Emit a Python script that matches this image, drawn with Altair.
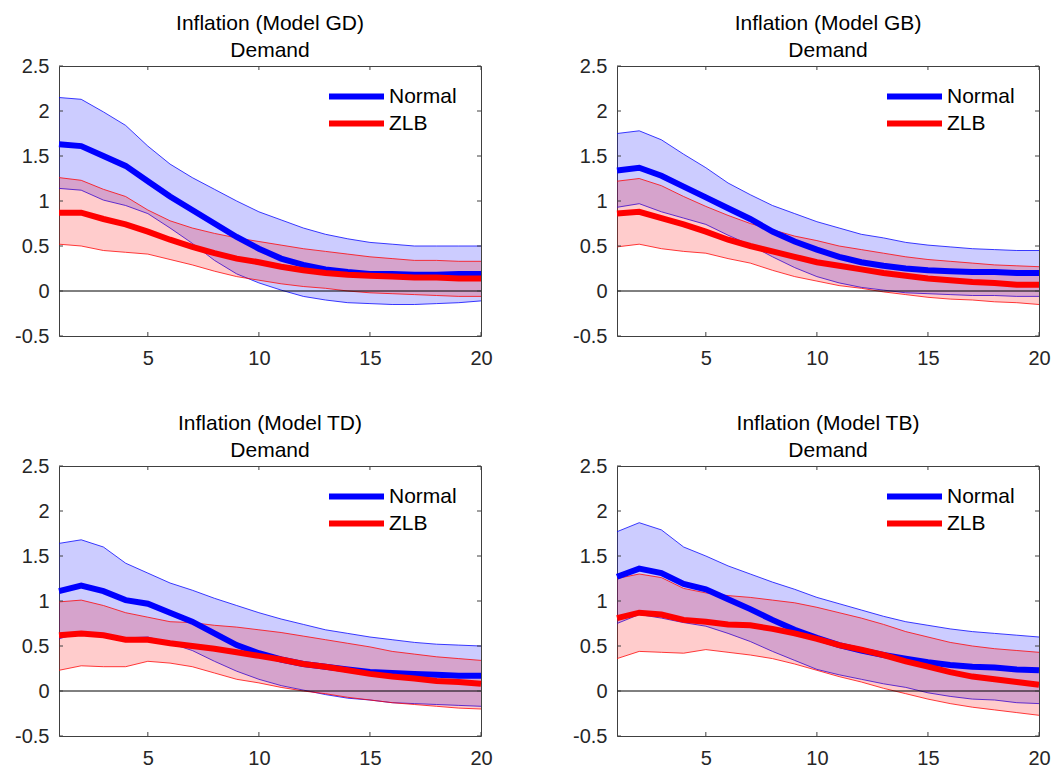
import altair as alt
import pandas as pd

t = list(range(1, 21))
panel_keys = ["GD", "GB", "TD", "TB"]
panel_titles = ["Inflation (Model GD)", "Inflation (Model GB)",
                "Inflation (Model TD)", "Inflation (Model TB)"]
subtitle = "Demand"
series_names = ["Normal", "ZLB"]
series_colors = ["#0000ff", "#ff0000"]
x_ticks = [5, 10, 15, 20]
y_ticks = [-0.5, 0, 0.5, 1, 1.5, 2, 2.5]

# ---- Model GD ----
gd_normal_med = [1.63, 1.61, 1.50, 1.39, 1.22, 1.05, 0.90, 0.75, 0.60, 0.47,
                 0.36, 0.29, 0.24, 0.21, 0.19, 0.19, 0.18, 0.18, 0.19, 0.19]
gd_normal_hi = [2.15, 2.13, 1.99, 1.84, 1.61, 1.41, 1.26, 1.13, 1.00, 0.88,
                0.79, 0.70, 0.63, 0.58, 0.54, 0.52, 0.50, 0.50, 0.50, 0.50]
gd_normal_lo = [1.14, 1.12, 1.01, 0.95, 0.86, 0.70, 0.53, 0.34, 0.19, 0.09,
                0.01, -0.06, -0.10, -0.13, -0.14, -0.15, -0.15, -0.14, -0.13, -0.11]
gd_zlb_med = [0.87, 0.87, 0.80, 0.74, 0.66, 0.57, 0.49, 0.42, 0.36, 0.32,
              0.27, 0.23, 0.20, 0.18, 0.17, 0.16, 0.15, 0.15, 0.14, 0.14]
gd_zlb_hi = [1.26, 1.23, 1.13, 1.05, 0.90, 0.78, 0.70, 0.64, 0.59, 0.55,
             0.51, 0.47, 0.44, 0.41, 0.38, 0.36, 0.34, 0.34, 0.33, 0.33]
gd_zlb_lo = [0.52, 0.50, 0.45, 0.43, 0.41, 0.35, 0.29, 0.22, 0.16, 0.12,
             0.08, 0.05, 0.03, 0.00, -0.02, -0.03, -0.04, -0.05, -0.06, -0.06]

# ---- Model GB ----
gb_normal_med = [1.34, 1.37, 1.28, 1.16, 1.04, 0.92, 0.80, 0.66, 0.55, 0.46,
                 0.38, 0.32, 0.28, 0.25, 0.23, 0.22, 0.21, 0.21, 0.20, 0.20]
gb_normal_hi = [1.75, 1.78, 1.68, 1.52, 1.37, 1.20, 1.07, 0.95, 0.86, 0.77,
                0.70, 0.63, 0.59, 0.54, 0.51, 0.49, 0.47, 0.46, 0.45, 0.45]
gb_normal_lo = [0.93, 0.97, 0.88, 0.81, 0.74, 0.62, 0.51, 0.38, 0.26, 0.16,
                0.09, 0.04, 0.01, -0.02, -0.03, -0.04, -0.05, -0.05, -0.06, -0.06]
gb_zlb_med = [0.86, 0.88, 0.81, 0.74, 0.66, 0.57, 0.50, 0.44, 0.38, 0.32,
              0.28, 0.24, 0.20, 0.17, 0.14, 0.12, 0.10, 0.09, 0.07, 0.07]
gb_zlb_hi = [1.22, 1.25, 1.17, 1.05, 0.94, 0.84, 0.75, 0.68, 0.61, 0.56,
             0.50, 0.46, 0.42, 0.38, 0.35, 0.33, 0.31, 0.29, 0.28, 0.27]
gb_zlb_lo = [0.49, 0.52, 0.47, 0.44, 0.42, 0.36, 0.31, 0.23, 0.16, 0.11,
             0.06, 0.03, -0.01, -0.04, -0.07, -0.09, -0.10, -0.12, -0.13, -0.15]

# ---- Model TD ----
td_normal_med = [1.11, 1.17, 1.11, 1.01, 0.97, 0.87, 0.77, 0.64, 0.51, 0.42,
                 0.35, 0.30, 0.27, 0.24, 0.21, 0.20, 0.19, 0.18, 0.17, 0.17]
td_normal_hi = [1.64, 1.68, 1.60, 1.42, 1.31, 1.20, 1.12, 1.03, 0.95, 0.87,
                0.80, 0.74, 0.68, 0.64, 0.60, 0.57, 0.54, 0.52, 0.51, 0.50]
td_normal_lo = [0.58, 0.65, 0.63, 0.59, 0.60, 0.53, 0.45, 0.33, 0.22, 0.13,
                0.06, 0.01, -0.04, -0.08, -0.10, -0.13, -0.14, -0.15, -0.16, -0.17]
td_zlb_med = [0.62, 0.64, 0.62, 0.57, 0.57, 0.53, 0.50, 0.47, 0.43, 0.39,
              0.35, 0.30, 0.27, 0.23, 0.19, 0.16, 0.14, 0.11, 0.10, 0.08]
td_zlb_hi = [0.99, 1.01, 0.95, 0.87, 0.82, 0.77, 0.76, 0.73, 0.71, 0.68,
             0.65, 0.61, 0.57, 0.53, 0.49, 0.44, 0.41, 0.38, 0.36, 0.34]
td_zlb_lo = [0.23, 0.28, 0.27, 0.27, 0.33, 0.31, 0.27, 0.20, 0.13, 0.09,
             0.04, 0.00, -0.03, -0.07, -0.10, -0.13, -0.15, -0.17, -0.19, -0.20]

# ---- Model TB ----
tb_normal_med = [1.27, 1.36, 1.31, 1.19, 1.13, 1.02, 0.91, 0.79, 0.68, 0.59,
                 0.51, 0.45, 0.40, 0.36, 0.32, 0.29, 0.27, 0.26, 0.24, 0.23]
tb_normal_hi = [1.77, 1.87, 1.79, 1.60, 1.50, 1.39, 1.30, 1.21, 1.13, 1.04,
                0.97, 0.90, 0.83, 0.77, 0.73, 0.69, 0.66, 0.64, 0.62, 0.60]
tb_normal_lo = [0.75, 0.85, 0.81, 0.76, 0.72, 0.64, 0.55, 0.44, 0.34, 0.24,
                0.18, 0.13, 0.08, 0.04, -0.02, -0.06, -0.09, -0.10, -0.13, -0.14]
tb_zlb_med = [0.81, 0.87, 0.85, 0.79, 0.77, 0.74, 0.73, 0.69, 0.64, 0.58,
              0.51, 0.46, 0.40, 0.33, 0.27, 0.21, 0.16, 0.13, 0.10, 0.07]
tb_zlb_hi = [1.25, 1.30, 1.26, 1.14, 1.09, 1.06, 1.04, 1.01, 0.98, 0.93,
             0.87, 0.81, 0.74, 0.66, 0.60, 0.54, 0.50, 0.47, 0.45, 0.43]
tb_zlb_lo = [0.36, 0.44, 0.43, 0.42, 0.46, 0.43, 0.40, 0.36, 0.30, 0.23,
             0.16, 0.10, 0.03, -0.03, -0.09, -0.14, -0.18, -0.21, -0.24, -0.27]

data = {
    "GD": {"Normal": (gd_normal_med, gd_normal_lo, gd_normal_hi),
           "ZLB": (gd_zlb_med, gd_zlb_lo, gd_zlb_hi)},
    "GB": {"Normal": (gb_normal_med, gb_normal_lo, gb_normal_hi),
           "ZLB": (gb_zlb_med, gb_zlb_lo, gb_zlb_hi)},
    "TD": {"Normal": (td_normal_med, td_normal_lo, td_normal_hi),
           "ZLB": (td_zlb_med, td_zlb_lo, td_zlb_hi)},
    "TB": {"Normal": (tb_normal_med, tb_normal_lo, tb_normal_hi),
           "ZLB": (tb_zlb_med, tb_zlb_lo, tb_zlb_hi)},
}

rows = []
for key in panel_keys:
    for s in series_names:
        med, lo, hi = data[key][s]
        for i, tt in enumerate(t):
            rows.append({"panel": key, "series": s, "t": tt,
                         "med": med[i], "lo": lo[i], "hi": hi[i]})
df = pd.DataFrame(rows)
zero_df = pd.DataFrame({"y": [0.0]})
ytick_df = pd.DataFrame({"v": y_ticks})
xtick_df = pd.DataFrame({"v": x_ticks})

W, H = 422, 270
FONT = "Liberation Sans"

x_scale = alt.Scale(domain=[1, 20], nice=False, zero=False)
y_scale = alt.Scale(domain=[-0.5, 2.5], nice=False, zero=False)
x_axis = alt.Axis(values=x_ticks, title=None, labelFlush=False, labelOverlap=False,
                  labelPadding=12)
y_axis = alt.Axis(values=y_ticks, title=None, labelFlush=False, labelOverlap=False,
                  labelPadding=10, labelExpr="toString(datum.value)")


def make_panel(key, title):
    base = alt.Chart(df).transform_filter(alt.datum.panel == key)
    X = alt.X("t:Q", scale=x_scale, axis=x_axis)
    layers = []
    for s, c in zip(series_names, series_colors):
        sb = base.transform_filter(alt.datum.series == s)
        layers.append(
            sb.mark_area(fill=c, fillOpacity=0.2)
            .encode(x=X, y=alt.Y("hi:Q", scale=y_scale, axis=y_axis), y2="lo:Q")
        )
        for edge in ["hi", "lo"]:
            layers.append(
                sb.mark_line(color=c, strokeWidth=0.9, opacity=0.85)
                .encode(x=X, y=alt.Y(f"{edge}:Q", scale=y_scale))
            )
    zero = alt.Chart(zero_df).mark_rule(color="black", strokeWidth=1).encode(
        y=alt.Y("y:Q", scale=y_scale))
    lines = base.mark_line(strokeWidth=6).encode(
        x=X,
        y=alt.Y("med:Q", scale=y_scale),
        color=alt.Color(
            "series:N",
            scale=alt.Scale(domain=series_names, range=series_colors),
            legend=alt.Legend(
                title=None, orient="none", legendX=287, legendY=20,
                symbolType="M-5,0H5", symbolSize=121, symbolStrokeWidth=6,
                labelFontSize=21, labelFont=FONT, labelColor="black",
                labelOffset=22, rowPadding=2, padding=0,
            ),
        ),
    )
    tick_l = alt.Chart(ytick_df).mark_rule(color="#404040").encode(
        y=alt.Y("v:Q", scale=y_scale), x=alt.value(0), x2=alt.value(4))
    tick_r = alt.Chart(ytick_df).mark_rule(color="#404040").encode(
        y=alt.Y("v:Q", scale=y_scale), x=alt.value(W - 4), x2=alt.value(W))
    tick_b = alt.Chart(xtick_df).mark_rule(color="#404040").encode(
        x=alt.X("v:Q", scale=x_scale), y=alt.value(H - 4), y2=alt.value(H))
    tick_t = alt.Chart(xtick_df).mark_rule(color="#404040").encode(
        x=alt.X("v:Q", scale=x_scale), y=alt.value(0), y2=alt.value(4))
    return alt.layer(*layers, zero, tick_l, tick_r, tick_b, tick_t, lines).properties(
        width=W, height=H,
        title=alt.TitleParams(text=[title, subtitle], fontSize=21, font=FONT,
                              fontWeight="normal", color="black", anchor="middle",
                              lineHeight=27, offset=-5),
    )


panels = [make_panel(k, ttl) for k, ttl in zip(panel_keys, panel_titles)]

chart = alt.concat(
    *panels, columns=2, spacing={"row": 130, "column": 136}, bounds="flush"
).resolve_scale(color="independent").properties(
    padding={"left": 14, "top": 12, "right": 0, "bottom": 0}
).configure_view(
    stroke="#404040", strokeWidth=1
).configure_axis(
    grid=False, domain=False, ticks=False, labelFont=FONT, labelFontSize=20,
    labelColor="#262626"
)

chart.save("out.html", embed_options={"renderer": "svg", "actions": False})
